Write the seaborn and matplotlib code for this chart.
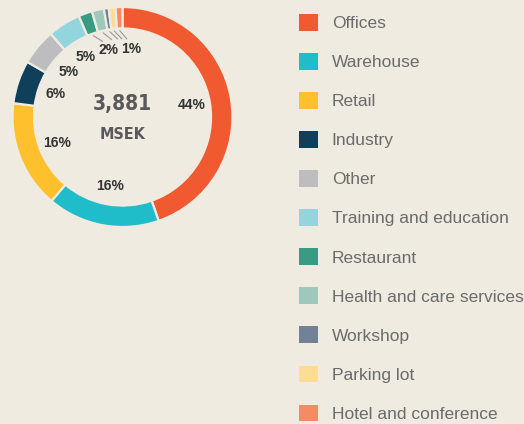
import numpy as np
import matplotlib
matplotlib.use("Agg")
import matplotlib.pyplot as plt
import seaborn as sns
from matplotlib.patches import Patch

# data (share of total, %)
categories = ["Offices", "Warehouse", "Retail", "Industry", "Other",
              "Training and education", "Restaurant", "Health and care services",
              "Workshop", "Parking lot", "Hotel and conference"]
shares = [44.4, 16.4, 15.75, 6.3, 5.3, 4.8, 2.0, 1.75, 0.7, 1.0, 1.0]
pct_labels = ["44%", "16%", "16%", "6%", "5%", "5%"]
small_groups = [("2%", [6, 7]), ("1%", [8, 9, 10])]
total_value = "3,881"
total_unit = "MSEK"

colors = ["#F15A31", "#1FBDC9", "#FFC02E", "#0F3F5A", "#BDBDC0",
          "#92D5DD", "#389C85", "#9EC8BC", "#728296", "#FFDC96", "#F58A64"]

bg = "#EFEBE1"
sns.set_theme(style="white", rc={"figure.facecolor": bg, "axes.facecolor": bg,
                                 "savefig.facecolor": bg})
plt.rcParams["font.family"] = ["Liberation Sans", "DejaVu Sans"]

W, H = 524, 424
fig = plt.figure(figsize=(W / 100, H / 100), dpi=100)

# donut axes: centre ~(122.5, 117) px, outer radius ~110 px
R = 110
cx, cy = 122.5, 117
lim = 1.1
ax = fig.add_axes([(cx - R * lim) / W, (H - cy - R * lim) / H, 2 * R * lim / W, 2 * R * lim / H])
wedges, _ = ax.pie(shares, colors=colors, startangle=90, counterclock=False, radius=1,
                   wedgeprops=dict(width=0.195, edgecolor=bg, linewidth=1.6))
ax.set_xlim(-lim, lim)
ax.set_ylim(-lim, lim)
ax.set_aspect("equal")
ax.axis("off")


def polar(r, deg):
    t = np.deg2rad(deg)
    return r * np.cos(t), r * np.sin(t)


# percentage labels inside the ring
for w, lab in zip(wedges, pct_labels):
    mid = (w.theta1 + w.theta2) / 2
    x, y = polar(0.64, mid)
    ax.text(x, y, lab, ha="center", va="center", fontsize=10, fontweight="bold", color="#333333")

# small slices share a label with leader lines
label_shift = [-4.5, -12.5]
for (lab, idx), shift in zip(small_groups, label_shift):
    mids = [(wedges[i].theta1 + wedges[i].theta2) / 2 for i in idx]
    for m in mids:
        x0, y0 = polar(0.785, m)
        x1, y1 = polar(0.71, m - 5)
        ax.plot([x0, x1], [y0, y1], color="#9A9A9A", lw=0.8)
    x, y = polar(0.625, np.mean(mids) + shift)
    ax.text(x, y, lab, ha="center", va="center", fontsize=10, fontweight="bold", color="#333333")

# centre total
ax.text(0, 0.12, total_value, ha="center", va="center", fontsize=15, fontweight="bold",
        fontstretch="condensed", color="#59595C", family="DejaVu Sans")
ax.text(0, -0.16, total_unit, ha="center", va="center", fontsize=11.5, fontweight="bold",
        fontstretch="condensed", color="#59595C", family="DejaVu Sans")

handles = [Patch(facecolor=c, edgecolor="none") for c in colors]
fig.legend(handles, categories, loc="upper left", bbox_to_anchor=(299 / W, 1 - 14 / H),
           frameon=False, fontsize=12.5, handlelength=1.09, handleheight=1.09,
           handletextpad=0.8, labelspacing=1.26, borderpad=0, borderaxespad=0,
           labelcolor="#6B6B6B")

fig.savefig("out.png", dpi=100, facecolor=bg)
